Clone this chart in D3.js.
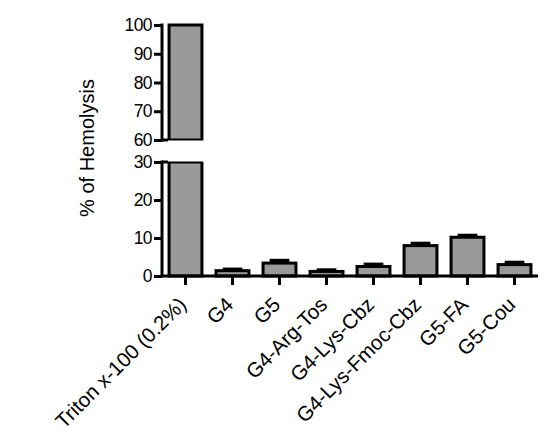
<!DOCTYPE html>
<html>
<head>
<meta charset="utf-8">
<script src="https://cdn.jsdelivr.net/npm/d3@7"></script>
<style>
  html, body { margin: 0; padding: 0; background: #fff; }
  text { font-family: "Liberation Sans", Arial, sans-serif; fill: #000; }
</style>
</head>
<body>
<div id="chart"></div>
<script>
// data
const categories = ["Triton x-100 (0.2%)", "G4", "G5", "G4-Arg-Tos", "G4-Lys-Cbz", "G4-Lys-Fmoc-Cbz", "G5-FA", "G5-Cou"];
const values = [100, 1.4, 3.4, 1.2, 2.5, 8.0, 10.2, 3.0];
const errors = [0, 0.3, 0.6, 0.3, 0.5, 0.5, 0.4, 0.5];
const lowerTicks = [0, 10, 20, 30];
const upperTicks = [60, 70, 80, 90, 100];
const lowerDomain = [0, 30];
const upperDomain = [60, 100];

const width = 550, height = 445;

const svg = d3.select("#chart").append("svg")
    .attr("width", width)
    .attr("height", height);

// broken y axis: two scales
const yLow = d3.scaleLinear().domain(lowerDomain).range([276, 162]);
const yHigh = d3.scaleLinear().domain(upperDomain).range([140, 25]);

const x = d3.scaleBand()
    .domain(categories)
    .range([162, 538])
    .paddingInner(0.3)
    .paddingOuter(0.15);

const data = categories.map((c, i) => ({ name: c, value: values[i], err: errors[i] }));

// bars - lower piece
const bars = svg.append("g");
bars.selectAll("rect.low")
    .data(data)
    .enter().append("rect")
    .attr("class", "low")
    .attr("x", d => x(d.name))
    .attr("width", x.bandwidth())
    .attr("y", d => yLow(Math.min(d.value, lowerDomain[1])))
    .attr("height", d => yLow(0) - yLow(Math.min(d.value, lowerDomain[1])))
    .attr("fill", "#999999")
    .attr("stroke", "#000")
    .attr("stroke-width", 3);

// bars - upper piece (only when value goes past the break)
bars.selectAll("rect.high")
    .data(data.filter(d => d.value > upperDomain[0]))
    .enter().append("rect")
    .attr("class", "high")
    .attr("x", d => x(d.name))
    .attr("width", x.bandwidth())
    .attr("y", d => yHigh(d.value))
    .attr("height", d => yHigh(upperDomain[0]) - yHigh(d.value))
    .attr("fill", "#999999")
    .attr("stroke", "#000")
    .attr("stroke-width", 3);

// white out the edges across the break for the tall bar
bars.selectAll("rect.gap")
    .data(data.filter(d => d.value > upperDomain[0]))
    .enter().append("rect")
    .attr("x", d => x(d.name) - 3)
    .attr("width", x.bandwidth() + 6)
    .attr("y", yHigh(upperDomain[0]) + 0.5)
    .attr("height", yLow(lowerDomain[1]) - yHigh(upperDomain[0]) - 1)
    .attr("fill", "#fff");

// error bars (upper half only)
const eb = svg.append("g").attr("stroke", "#000");
const errData = data.filter(d => d.err > 0);
eb.selectAll("line.v")
    .data(errData)
    .enter().append("line")
    .attr("x1", d => x(d.name) + x.bandwidth() / 2)
    .attr("x2", d => x(d.name) + x.bandwidth() / 2)
    .attr("y1", d => yLow(d.value))
    .attr("y2", d => yLow(d.value + d.err))
    .attr("stroke-width", 3);
eb.selectAll("line.cap")
    .data(errData)
    .enter().append("line")
    .attr("x1", d => x(d.name) + x.bandwidth() * 0.2)
    .attr("x2", d => x(d.name) + x.bandwidth() * 0.8)
    .attr("y1", d => yLow(d.value + d.err))
    .attr("y2", d => yLow(d.value + d.err))
    .attr("stroke-width", 4);

// y axes
const axLow = svg.append("g")
    .attr("transform", "translate(162,0)")
    .call(d3.axisLeft(yLow).tickValues(lowerTicks).tickSize(8).tickPadding(2));
const axHigh = svg.append("g")
    .attr("transform", "translate(162,0)")
    .call(d3.axisLeft(yHigh).tickValues(upperTicks).tickSize(8).tickPadding(2));

[axLow, axHigh].forEach(ax => {
    ax.select(".domain").remove();
    ax.selectAll(".tick line").attr("stroke-width", 3);
    ax.selectAll(".tick text")
        .attr("font-size", 17.5)
        .attr("font-family", "Liberation Sans, Arial, sans-serif")
        .attr("letter-spacing", "-0.6px");
});

// axis spines
svg.append("line")
    .attr("x1", 162).attr("x2", 162)
    .attr("y1", yHigh(upperDomain[1]) - 1.5).attr("y2", yHigh(upperDomain[0]) + 1.5)
    .attr("stroke", "#000").attr("stroke-width", 3);
svg.append("line")
    .attr("x1", 162).attr("x2", 162)
    .attr("y1", yLow(lowerDomain[1]) - 1.5).attr("y2", yLow(0) + 1.5)
    .attr("stroke", "#000").attr("stroke-width", 3);

// break marks at 60 and 30
svg.append("line")
    .attr("x1", 162).attr("x2", 168)
    .attr("y1", yHigh(upperDomain[0])).attr("y2", yHigh(upperDomain[0]))
    .attr("stroke", "#000").attr("stroke-width", 3);
svg.append("line")
    .attr("x1", 162).attr("x2", 168)
    .attr("y1", yLow(lowerDomain[1])).attr("y2", yLow(lowerDomain[1]))
    .attr("stroke", "#000").attr("stroke-width", 3);

// x axis
const xAx = svg.append("g")
    .attr("transform", "translate(0,276)")
    .call(d3.axisBottom(x).tickSize(9).tickSizeOuter(0));
xAx.select(".domain").attr("stroke-width", 3)
    .attr("d", "M160.5,0H538");
xAx.selectAll(".tick line").attr("stroke-width", 3);
xAx.selectAll(".tick text")
    .attr("font-size", 20.5)
    .attr("font-family", "Liberation Sans, Arial, sans-serif")
    .attr("text-anchor", "end")
    .attr("x", 0).attr("y", 0).attr("dy", 0)
    .attr("transform", "translate(2,30) rotate(-45)");

// y axis title
svg.append("text")
    .attr("transform", "translate(94,148) rotate(-90)")
    .attr("text-anchor", "middle")
    .attr("font-size", 20)
    .text("% of Hemolysis");
</script>
</body>
</html>
